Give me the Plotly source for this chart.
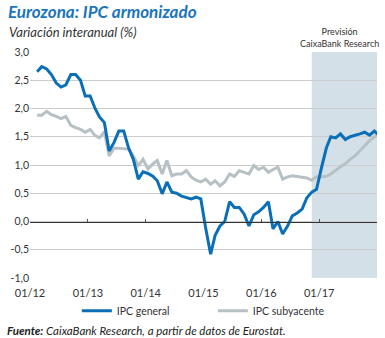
import plotly.graph_objects as go
import pandas as pd

months = pd.date_range("2012-01-15", periods=72, freq="MS") + pd.Timedelta(days=14)

ipc_general = [
    2.65, 2.74, 2.70, 2.60, 2.45, 2.38, 2.42, 2.60, 2.60, 2.50, 2.22, 2.22,
    2.00, 1.85, 1.75, 1.25, 1.40, 1.60, 1.60, 1.30, 1.10, 0.75, 0.88, 0.85,
    0.80, 0.72, 0.49, 0.70, 0.52, 0.50, 0.45, 0.42, 0.40, 0.43, 0.40, -0.12,
    -0.58, -0.25, -0.08, 0.00, 0.35, 0.25, 0.25, 0.13, -0.08, 0.12, 0.17, 0.25,
    0.35, -0.13, 0.00, -0.22, -0.08, 0.10, 0.15, 0.22, 0.42, 0.52, 0.57, 0.95,
    1.30, 1.50, 1.48, 1.55, 1.45, 1.50, 1.52, 1.55, 1.58, 1.53, 1.60, 1.52,
]
ipc_subyacente = [
    1.88, 1.88, 1.95, 1.89, 1.86, 1.82, 1.86, 1.70, 1.66, 1.63, 1.58, 1.63,
    1.52, 1.48, 1.59, 1.16, 1.30, 1.30, 1.29, 1.28, 1.16, 0.99, 1.10, 0.93,
    1.02, 1.08, 0.84, 1.08, 0.81, 0.84, 0.84, 0.90, 0.79, 0.73, 0.70, 0.75,
    0.66, 0.72, 0.63, 0.70, 0.84, 0.80, 0.90, 0.87, 0.84, 0.99, 0.92, 0.96,
    0.87, 0.92, 0.96, 0.75, 0.79, 0.81, 0.80, 0.79, 0.77, 0.73, 0.79, 0.79,
    0.80, 0.84, 0.91, 0.97, 1.02, 1.10, 1.16, 1.25, 1.35, 1.43, 1.50, 1.55,
]

y_ticks = [-1.0, -0.5, 0.0, 0.5, 1.0, 1.5, 2.0, 2.5, 3.0]
y_ticktext = [f"{v:.1f}".replace(".", ",") for v in y_ticks]
x_ticks = ["2012-01-01", "2013-01-01", "2014-01-01", "2015-01-01", "2016-01-01", "2017-01-01"]
x_ticktext = ["01/12", "01/13", "01/14", "01/15", "01/16", "01/17"]
zero_ticks = x_ticks + ["2018-01-01"]

forecast_start = "2016-11-15"
x_end = "2018-01-01"

FONT = "Lato"
BLUE = "#0b6fb8"
GRAY = "#b7c0c4"

fig = go.Figure()
fig.add_trace(go.Scatter(
    x=zero_ticks, y=[0] * len(zero_ticks), xaxis="x2", mode="markers",
    marker=dict(opacity=0), showlegend=False, hoverinfo="skip"))
fig.add_trace(go.Scatter(x=months, y=ipc_subyacente, name="IPC subyacente", mode="lines",
                         line=dict(color=GRAY, width=3), legend="legend2"))
fig.add_trace(go.Scatter(x=months, y=ipc_general, name="IPC general", mode="lines",
                         line=dict(color=BLUE, width=3), legend="legend"))

fig.add_shape(type="rect", xref="x", yref="y", x0=forecast_start, x1=x_end, y0=-1, y1=3,
              fillcolor="#d3e0e8", line=dict(width=0), layer="below")

fig.add_annotation(x="2017-05-10", y=1.0, xref="x", yref="paper", yanchor="bottom", yshift=1,
                   text="Previsión<br>CaixaBank Research", showarrow=False,
                   font=dict(family=FONT, size=9, color="#333333"), align="center")

fig.add_annotation(x=-0.068, y=1.178, xref="paper", yref="paper", xanchor="left", yanchor="middle",
                   text="<b><i>Eurozona: IPC armonizado</i></b>", showarrow=False,
                   font=dict(family=FONT, size=17, color="#1a75bc"))
fig.add_annotation(x=-0.066, y=1.09, xref="paper", yref="paper", xanchor="left", yanchor="middle",
                   text="<i>Variación interanual (%)</i>", showarrow=False,
                   font=dict(family=FONT, size=13, color="#333333"))
fig.add_annotation(x=-0.072, y=-0.232, xref="paper", yref="paper", xanchor="left", yanchor="middle",
                   text="<b><i>Fuente:</i></b><i> CaixaBank Research, a partir de datos de Eurostat.</i>",
                   showarrow=False, font=dict(family=FONT, size=11.5, color="#222222"))

legend_style = dict(orientation="h", xanchor="left", y=-0.145, yanchor="middle",
                    font=dict(family=FONT, size=10.5, color="#333333"), bgcolor="rgba(0,0,0,0)")

fig.update_layout(
    width=385, height=338,
    margin=dict(l=30, r=8, t=52, b=60),
    paper_bgcolor="white", plot_bgcolor="white",
    font=dict(family=FONT, size=10, color="#333333"),
    xaxis=dict(type="date", range=["2012-01-01", x_end], tickvals=x_ticks, ticktext=x_ticktext,
               showgrid=False, zeroline=False, showline=False, ticks="", ticklabelstandoff=7,
               tickfont=dict(size=11, color="#333333")),
    xaxis2=dict(type="date", matches="x", overlaying="x", anchor="free", position=0.25,
                showline=True, linecolor="#333333", linewidth=1,
                tickvals=zero_ticks, ticks="inside", ticklen=3, tickcolor="#555555",
                showticklabels=False, showgrid=False, zeroline=False),
    yaxis=dict(range=[-1, 3], tickvals=y_ticks, ticktext=y_ticktext, showgrid=True,
               gridcolor="#cccccc", gridwidth=1, zeroline=False, showline=False, ticks="",
               tickfont=dict(size=10.5, color="#333333")),
    legend=dict(x=0.135, **legend_style),
    legend2=dict(x=0.527, **legend_style),
    showlegend=True,
)

fig.write_html("out.html")
